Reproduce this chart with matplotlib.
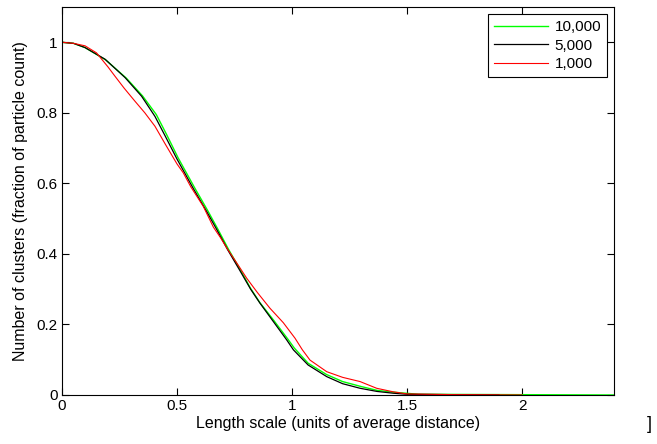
import matplotlib
matplotlib.use('Agg')
import matplotlib.pyplot as plt

plt.rcParams.update({'font.size': 11, 'font.family': 'Liberation Sans'})

# 10,000 particles
x_10000 = [0, 0.05, 0.1, 0.19, 0.28, 0.35, 0.41, 0.455, 0.505, 0.577, 0.634, 0.676,
           0.723, 0.776, 0.82, 0.86, 0.92, 0.98, 1.01, 1.07, 1.15, 1.22, 1.3, 1.37, 1.44,
           1.55, 2.4]
y_10000 = [1.0, 0.997, 0.985, 0.95, 0.898, 0.848, 0.795, 0.738, 0.672, 0.587, 0.522, 0.472,
           0.414, 0.354, 0.302, 0.262, 0.212, 0.16, 0.133, 0.09, 0.058, 0.038, 0.024, 0.013,
           0.008, 0.002, 0.0]

# 5,000 particles
x_5000 = [0, 0.05, 0.1, 0.187, 0.274, 0.346, 0.404, 0.448, 0.499, 0.571, 0.629, 0.672,
          0.72, 0.774, 0.82, 0.861, 0.919, 0.977, 1.006, 1.07, 1.151, 1.22, 1.296, 1.37, 1.44,
          1.5, 1.9]
y_5000 = [1.0, 0.997, 0.985, 0.952, 0.90, 0.847, 0.79, 0.735, 0.67, 0.585, 0.52, 0.47,
          0.412, 0.352, 0.30, 0.26, 0.208, 0.156, 0.128, 0.085, 0.052, 0.032, 0.019, 0.01,
          0.005, 0.002, 0.0]

# 1,000 particles
x_1000 = [0, 0.05, 0.1, 0.15, 0.2, 0.23, 0.27, 0.317, 0.36, 0.404, 0.45, 0.5, 0.527, 0.56,
          0.614, 0.658, 0.69, 0.72, 0.76, 0.803, 0.85, 0.904, 0.962, 1.013, 1.045, 1.078,
          1.151, 1.22, 1.296, 1.368, 1.44, 1.5, 1.7, 2.0]
y_1000 = [1.0, 0.997, 0.99, 0.97, 0.93, 0.904, 0.87, 0.833, 0.8, 0.762, 0.71, 0.655, 0.630,
          0.59, 0.535, 0.476, 0.445, 0.413, 0.374, 0.331, 0.29, 0.246, 0.205, 0.161, 0.128,
          0.099, 0.066, 0.05, 0.038, 0.019, 0.009, 0.003, 0.001, 0.0]

fig = plt.figure(figsize=(6.57, 4.44), dpi=100)
ax = fig.add_axes([0.0944, 0.1104, 0.8402, 0.8738])

ax.plot(x_10000, y_10000, color='#00ff00', lw=1.0, label='10,000')
ax.plot(x_5000, y_5000, color='black', lw=0.9, label='5,000')
ax.plot(x_1000, y_1000, color='red', lw=0.8, label='1,000')

ax.set_xlim(0, 2.4)
ax.set_ylim(0, 1.1)
ax.set_xticks([0, 0.5, 1, 1.5, 2])
ax.set_xticklabels(['0', '0.5', '1', '1.5', '2'])
ax.set_yticks([0, 0.2, 0.4, 0.6, 0.8, 1])
ax.set_yticklabels(['0', '0.2', '0.4', '0.6', '0.8', '1'])
ax.tick_params(direction='in', length=5, width=0.8, top=True, right=True, pad=3)
for s in ax.spines.values():
    s.set_linewidth(0.8)

ax.set_xlabel('Length scale (units of average distance)', fontsize=11.5, labelpad=2)
ax.set_ylabel('Number of clusters (fraction of particle count)', fontsize=11.5, labelpad=6)

leg = ax.legend(loc='upper right', fancybox=False, framealpha=1, edgecolor='black',
                handlelength=3.5, borderaxespad=0.45, labelspacing=0.3, handletextpad=0.45,
                borderpad=0.4)
leg.get_frame().set_linewidth(0.8)

fig.text(0.985, 0.025, ']', fontsize=13, ha='left', va='bottom')

plt.savefig('out.png', dpi=100)
